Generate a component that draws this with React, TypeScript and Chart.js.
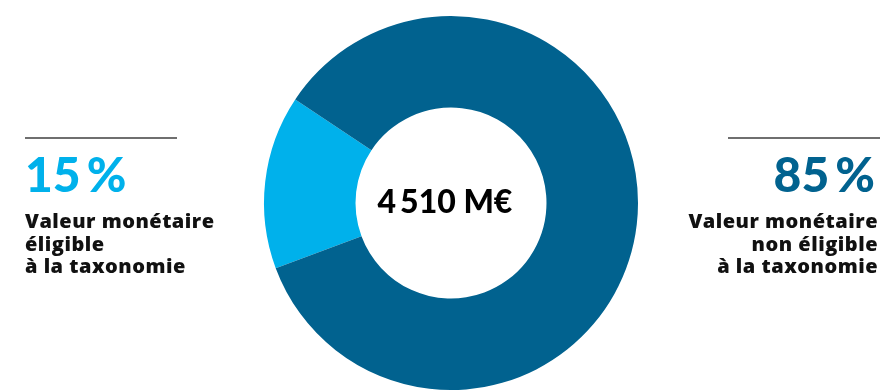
import React, { useEffect, useRef } from "react";
import { Chart, registerables } from "chart.js";

Chart.register(...registerables);

const categories = ["Valeur monétaire éligible à la taxonomie", "Valeur monétaire non éligible à la taxonomie"];
const shares = [15, 85];
const colors = ["#00B1EB", "#01628F"];
const centerLabel = "4\u2009510 M€";
const percentLabels = ["15\u2009%", "85\u2009%"];

const FONT = "Lato, 'Noto Sans', sans-serif";
const DESC_FONT = "'Open Sans', 'Noto Sans', sans-serif";

export default function App() {
  const ref = useRef<HTMLCanvasElement | null>(null);

  useEffect(() => {
    if (!ref.current) return;
    const chart = new Chart(ref.current, {
      type: "doughnut",
      data: {
        labels: categories,
        datasets: [
          {
            data: shares,
            backgroundColor: colors,
            borderWidth: 0,
            hoverOffset: 0,
          },
        ],
      },
      options: {
        responsive: false,
        animation: false,
        rotation: 249.6,
        radius: 187,
        cutout: 96,
        layout: { padding: { left: 21, right: 0, top: 15, bottom: 0 } },
        plugins: {
          legend: { display: false },
          tooltip: { enabled: false },
        },
      },
    });
    return () => chart.destroy();
  }, []);

  const lineStyle: React.CSSProperties = {
    position: "absolute",
    top: 137,
    height: 1.5,
    width: 152,
    background: "#6f6f6f",
  };
  const pctStyle: React.CSSProperties = {
    position: "absolute",
    top: 150,
    fontFamily: FONT,
    fontWeight: 900,
    fontSize: 48,
    lineHeight: "48px",
    whiteSpace: "nowrap",
  };
  const descStyle: React.CSSProperties = {
    position: "absolute",
    top: 210,
    fontFamily: DESC_FONT,
    fontWeight: 800,
    fontSize: 20,
    lineHeight: "22.5px",
    letterSpacing: 0.5,
    color: "#111",
    whiteSpace: "nowrap",
  };

  return (
    <div style={{ position: "fixed", left: 0, top: 0, width: 881, height: 391, background: "#fff", overflow: "hidden" }}>
      <canvas ref={ref} width={881} height={391} style={{ position: "absolute", left: 0, top: 0 }} />
      <div style={{ ...lineStyle, left: 25 }} />
      <div style={{ ...lineStyle, left: 728 }} />
      <div style={{ ...pctStyle, left: 25, color: colors[0] }}>{percentLabels[0]}</div>
      <div style={{ ...pctStyle, right: 6, color: colors[1], textAlign: "right" }}>{percentLabels[1]}</div>
      <div style={{ ...descStyle, left: 25 }}>
        Valeur monétaire<br />éligible<br />à la taxonomie
      </div>
      <div style={{ ...descStyle, right: 3, textAlign: "right" }}>
        Valeur monétaire<br />non éligible<br />à la taxonomie
      </div>
      <div
        style={{
          position: "absolute",
          left: 345,
          width: 200,
          top: 185,
          textAlign: "center",
          fontFamily: FONT,
          fontWeight: 900,
          fontSize: 32,
          lineHeight: "32px",
          color: "#000",
          whiteSpace: "nowrap",
        }}
      >
        {centerLabel}
      </div>
    </div>
  );
}
